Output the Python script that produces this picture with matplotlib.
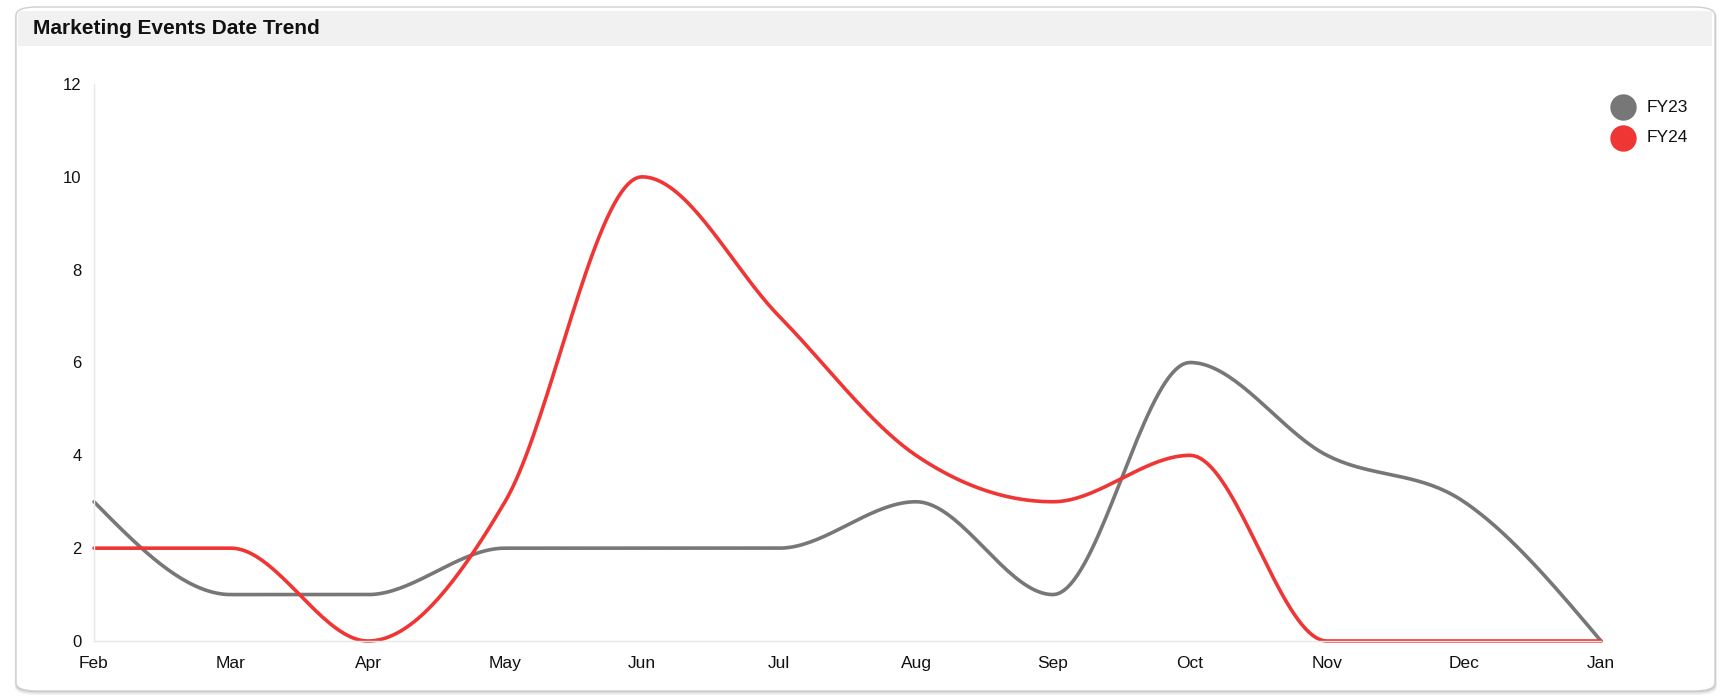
import numpy as np
import matplotlib.pyplot as plt
from matplotlib.patches import FancyBboxPatch, Rectangle

plt.rcParams['font.family'] = ['Liberation Sans', 'DejaVu Sans']

# ---- data ----
months = ["Feb", "Mar", "Apr", "May", "Jun", "Jul", "Aug", "Sep", "Oct", "Nov", "Dec", "Jan"]
fy23 = [3, 1, 1, 2, 2, 2, 3, 1, 6, 4, 3, 0]
fy24 = [2, 2, 0, 3, 10, 7, 4, 3, 4, 0, 0, 0]
series_names = ["FY23", "FY24"]
series_colors = ["#777777", "#f03535"]


def monotone_x(xs, ys, n=40):
    """Monotone cubic curve through the points (same scheme as d3.curveMonotoneX)."""
    xs = np.asarray(xs, float)
    ys = np.asarray(ys, float)
    k = len(xs)
    t = np.zeros(k)
    for i in range(1, k - 1):
        h0 = xs[i] - xs[i - 1]
        h1 = xs[i + 1] - xs[i]
        s0 = (ys[i] - ys[i - 1]) / h0
        s1 = (ys[i + 1] - ys[i]) / h1
        p = (s0 * h1 + s1 * h0) / (h0 + h1)
        t[i] = (np.sign(s0) + np.sign(s1)) * min(abs(s0), abs(s1), 0.5 * abs(p))
    h = xs[1] - xs[0]
    t[0] = (3 * (ys[1] - ys[0]) / h - t[1]) / 2
    h = xs[-1] - xs[-2]
    t[-1] = (3 * (ys[-1] - ys[-2]) / h - t[-2]) / 2

    out_x, out_y = [], []
    for i in range(k - 1):
        dx = (xs[i + 1] - xs[i]) / 3
        p0 = np.array([xs[i], ys[i]])
        p1 = np.array([xs[i] + dx, ys[i] + dx * t[i]])
        p2 = np.array([xs[i + 1] - dx, ys[i + 1] - dx * t[i + 1]])
        p3 = np.array([xs[i + 1], ys[i + 1]])
        u = np.linspace(0, 1, n)[:, None]
        pts = ((1 - u) ** 3) * p0 + 3 * ((1 - u) ** 2) * u * p1 + 3 * (1 - u) * u ** 2 * p2 + u ** 3 * p3
        out_x.extend(pts[:, 0])
        out_y.extend(pts[:, 1])
    return np.array(out_x), np.array(out_y)


W, H = 1731, 697
fig = plt.figure(figsize=(W / 100, H / 100), dpi=100)
fig.patch.set_facecolor("#ffffff")

# card with soft shadow
for off, alpha in [(4, 0.05), (2.5, 0.07), (1.2, 0.10)]:
    fig.patches.append(FancyBboxPatch(
        ((16 - off * 0.3) / W, (6 - off) / H), (1699 + off * 0.8) / W, (684 + off * 0.6) / H,
        boxstyle="round,pad=0,rounding_size=0.012", transform=fig.transFigure,
        facecolor="#000000", edgecolor="none", alpha=alpha, zorder=0))
fig.patches.append(FancyBboxPatch(
    (16 / W, 6 / H), 1699 / W, 684 / H,
    boxstyle="round,pad=0,rounding_size=0.012", transform=fig.transFigure,
    facecolor="#ffffff", edgecolor="#cfcfcf", linewidth=1.0, zorder=1))

# title band
fig.patches.append(Rectangle((18 / W, 1 - 46 / H), 1694 / W, 35 / H,
                             transform=fig.transFigure, facecolor="#f1f1f1",
                             edgecolor="none", zorder=2))
fig.text(33 / W, 1 - 28 / H, "Marketing Events Date Trend", fontsize=15,
         fontweight="bold", color="#111111", va="center", ha="left", zorder=3)

ax = fig.add_axes([94 / W, 1 - 641 / H, (1601 - 94) / W, (641 - 84) / H])
ax.set_facecolor("none")
ax.set_zorder(4)

x = np.arange(len(months))
for vals, name, col in zip([fy23, fy24], series_names, series_colors):
    cx, cy = monotone_x(x, vals)
    ax.plot(cx, cy, color=col, linewidth=2.6, solid_capstyle="round",
            clip_on=False, label=name)

ax.set_xlim(0, len(months) - 1)
ax.set_ylim(0, 12)
ax.set_xticks(x)
ax.set_xticklabels(months)
ax.set_yticks(range(0, 13, 2))
ax.tick_params(axis="both", length=0, colors="#111111")
ax.tick_params(axis="x", pad=10.5, labelsize=12.5)
ax.tick_params(axis="y", pad=9, labelsize=12)
for side in ["top", "right"]:
    ax.spines[side].set_visible(False)
for side in ["left", "bottom"]:
    ax.spines[side].set_color("#e8e8e8")
    ax.spines[side].set_linewidth(1.0)

# legend: filled circles with labels
for i, (name, col) in enumerate(zip(series_names, series_colors)):
    yy = 1 - (107 + i * 31) / H
    fig.lines.append(plt.Line2D([1623 / W], [yy], transform=fig.transFigure,
                                marker="o", markersize=19, color=col,
                                markeredgewidth=0, linestyle="none", zorder=5))
    fig.text(1647 / W, yy, name, fontsize=12.5, color="#111111",
             va="center", ha="left", zorder=5)

fig.savefig("out.png", dpi=100)
